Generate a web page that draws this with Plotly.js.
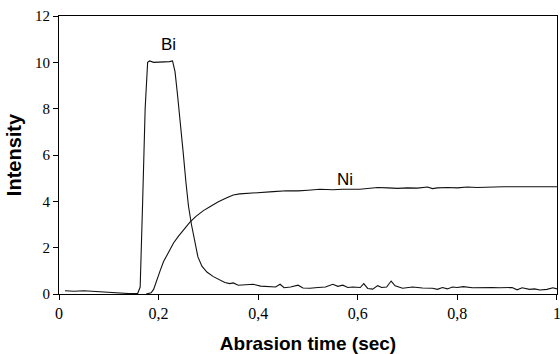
<!DOCTYPE html>
<html>
<head>
<meta charset="utf-8">
<script src="https://cdn.plot.ly/plotly-3.0.1.min.js"></script>
<style>html,body{margin:0;padding:0;background:#fff;}#chart{width:560px;height:354px;}</style>
</head>
<body>
<div id="chart"></div>
<script>
const biTime = [0.012,0.03,0.05,0.07,0.09,0.11,0.125,0.14,0.158,0.163,0.168,0.173,0.178,0.182,0.19,0.2,0.21,0.222,0.228,0.233,0.238,0.243,0.249,0.255,0.26,0.266,0.272,0.279,0.287,0.297,0.31,0.323,0.333,0.343,0.35,0.36,0.375,0.39,0.405,0.424,0.435,0.444,0.452,0.465,0.48,0.49,0.504,0.52,0.535,0.55,0.56,0.57,0.58,0.59,0.605,0.612,0.62,0.63,0.64,0.648,0.658,0.667,0.675,0.69,0.71,0.73,0.75,0.76,0.77,0.78,0.79,0.8,0.812,0.83,0.85,0.87,0.885,0.9,0.91,0.92,0.93,0.945,0.955,0.966,0.98,0.992,1.0];
const biIntensity = [0.14,0.12,0.14,0.11,0.08,0.07,0.04,0.02,0.02,0.3,4,8,10.0,10.06,10.0,10.0,10.0,10.03,10.06,9.6,8.6,7.6,6.2,4.8,3.8,3.0,2.3,1.6,1.2,0.95,0.75,0.6,0.5,0.45,0.48,0.38,0.4,0.42,0.34,0.32,0.3,0.42,0.27,0.3,0.38,0.26,0.25,0.28,0.3,0.42,0.33,0.38,0.28,0.3,0.28,0.45,0.24,0.21,0.36,0.28,0.3,0.56,0.35,0.25,0.3,0.26,0.25,0.2,0.28,0.22,0.3,0.28,0.32,0.27,0.29,0.28,0.27,0.26,0.28,0.18,0.27,0.2,0.22,0.17,0.2,0.27,0.22];
const niTime = [0.175,0.185,0.19,0.196,0.203,0.21,0.22,0.23,0.24,0.25,0.263,0.275,0.29,0.303,0.32,0.337,0.35,0.363,0.38,0.39,0.41,0.43,0.457,0.48,0.5,0.524,0.55,0.57,0.604,0.62,0.64,0.66,0.68,0.7,0.72,0.74,0.75,0.76,0.78,0.8,0.82,0.84,0.86,0.892,1.0];
const niIntensity = [0,0.05,0.2,0.6,1.0,1.4,1.8,2.2,2.5,2.75,3.1,3.35,3.6,3.77,3.98,4.15,4.27,4.32,4.35,4.38,4.4,4.42,4.46,4.45,4.48,4.52,4.5,4.52,4.52,4.55,4.6,4.58,4.56,4.58,4.57,4.62,4.55,4.58,4.6,4.58,4.62,4.6,4.62,4.63,4.63];
const xTickVals = [0,0.2,0.4,0.6,0.8,1];
const xTickText = ['0','0,2','0,4','0,6','0,8','1'];
const yTickVals = [0,2,4,6,8,10,12];
const labels = [{text:'Bi', x:0.219, y:10.75}, {text:'Ni', x:0.574, y:4.95}];

const serif = 'Liberation Serif, Times New Roman, serif';
const sans = 'Liberation Sans, Arial, sans-serif';
const lineStyle = {color:'#111', width:1.1};
const traces = [
  {x: biTime, y: biIntensity, mode:'lines', line: lineStyle, name:'Bi'},
  {x: niTime, y: niIntensity, mode:'lines', line: lineStyle, name:'Ni'}
];
const layout = {
  width:560, height:354,
  margin:{l:59, r:3, t:16, b:60},
  paper_bgcolor:'#fff', plot_bgcolor:'#fff',
  font:{family:serif, size:15, color:'#000'},
  showlegend:false,
  xaxis:{
    range:[0,1.0001], tickmode:'array', tickvals:xTickVals, ticktext:xTickText,
    ticklabeloverflow:'allow',
    showgrid:false, zeroline:false,
    showline:true, linecolor:'#000', linewidth:1, mirror:true,
    ticks:'outside', ticklen:5, tickcolor:'#000',
    tickfont:{family:serif, size:16, color:'#000'},
    title:{text:'Abrasion time (sec)', font:{family:sans, size:19, color:'#000', weight:'bold'}, standoff:15}
  },
  yaxis:{
    range:[0,12], tickmode:'array', tickvals:yTickVals,
    showgrid:false, zeroline:false,
    showline:true, linecolor:'#000', linewidth:1, mirror:true,
    ticks:'outside', ticklen:5, tickcolor:'#000',
    tickfont:{family:serif, size:15, color:'#000'},
    title:{text:'Intensity', font:{family:sans, size:20, color:'#000', weight:'bold'}, standoff:8}
  },
  annotations: labels.map(l => ({text:l.text, x:l.x, y:l.y, xref:'x', yref:'y', showarrow:false,
    font:{family:sans, size:17, color:'#000'}}))
};
Plotly.newPlot('chart', traces, layout, {displayModeBar:false, staticPlot:true});
</script>
</body>
</html>
